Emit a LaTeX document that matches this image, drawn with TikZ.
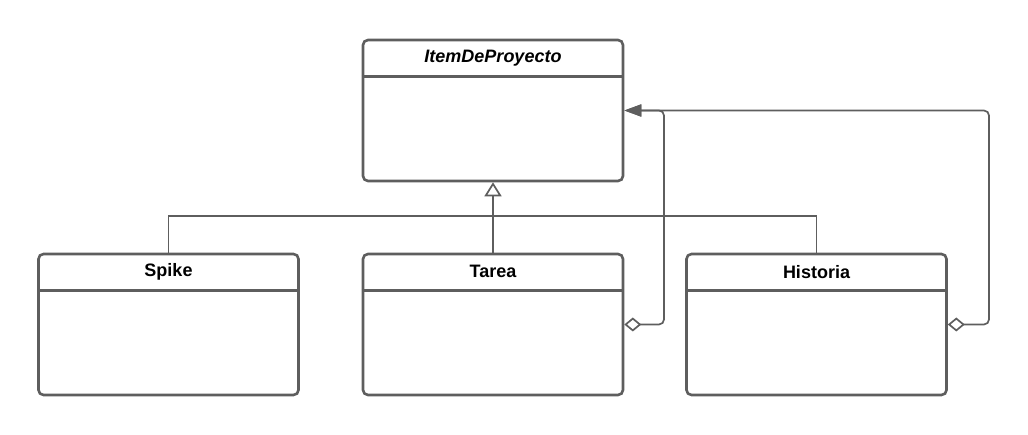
\documentclass[tikz,border=0pt]{standalone}
\usepackage{fontspec}
\setmainfont{Liberation Sans}
\usetikzlibrary{arrows.meta}
\definecolor{lc}{HTML}{5E5E5E}
\tikzset{
  cls/.style={draw=lc, line width=2.6pt, rounded corners=5pt, minimum width=260pt, minimum height=141pt, inner sep=0pt, fill=white},
  hdr/.style={font=\fontsize{18}{20}\selectfont\bfseries, text=black, inner sep=0pt},
  conn/.style={draw=lc, line width=1.7pt, rounded corners=5pt},
  gen/.style={conn, -{Triangle[open, length=14pt, width=17pt, line width=1.7pt]}},
  agg/.style={conn, {Triangle[length=17pt, width=12pt]}-{Diamond[open, length=17pt, width=14pt, line width=1.7pt]}}
}
\begin{document}
\begin{tikzpicture}[x=1pt, y=-1pt]
\useasboundingbox (0,0) rectangle (1028,435);
\node[cls] (item) at (493,110.5) {};
\node[cls] (spike) at (168.5,324.5) {};
\node[cls] (tarea) at (493,324.5) {};
\node[cls] (hist) at (816.5,324.5) {};
\foreach \n in {item,spike,tarea,hist}{
  \draw[lc, line width=2.6pt] ([yshift=-38pt]\n.north west) -- ([yshift=-38pt]\n.north east);
}
\node[hdr, font=\fontsize{18}{20}\selectfont\bfseries\itshape] (itemt) at ([yshift=-19pt]item.north) {ItemDeProyecto};
\node[hdr] (spiket) at ([yshift=-19pt]spike.north) {Spike};
\node[hdr] (tareat) at ([yshift=-19pt]tarea.north) {Tarea};
\node[hdr] (histt) at ([yshift=-19pt]hist.north) {Historia};
% generalization
\coordinate (bus) at (493,216);
\draw[conn, rounded corners=0pt] (spike.north) |- (bus);
\draw[conn, rounded corners=0pt] (hist.north) |- (bus);
\draw[gen] (tarea.north) -- (item.south);
% aggregations
\coordinate (tc) at (664,110.5);
\coordinate (hc) at (989,110.5);
\draw[agg] (item.east) -- (hc) -- (hc |- hist.east) -- (hist.east);
\draw[agg] (item.east) -- (tc) -- (tc |- tarea.east) -- (tarea.east);
\end{tikzpicture}
\end{document}
